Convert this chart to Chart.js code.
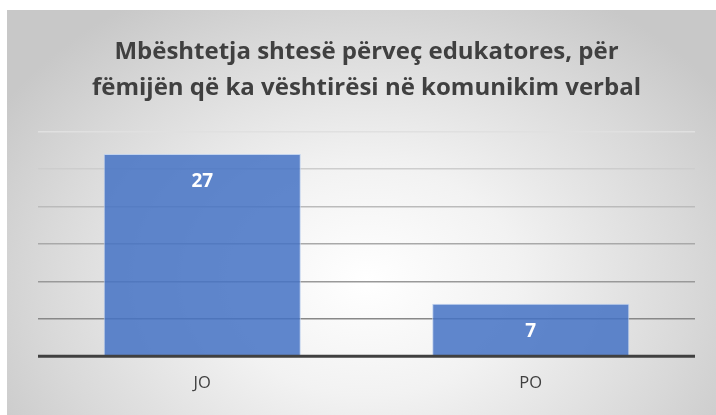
<!DOCTYPE html>
<html>
<head>
<meta charset="utf-8">
<script src="https://cdn.jsdelivr.net/npm/chart.js@4"></script>
<style>
  html, body { margin: 0; padding: 0; background: #ffffff; }
  #wrap {
    position: absolute; left: 7px; top: 10px; width: 709px; height: 405px;
    background: radial-gradient(ellipse 430px 330px at 360px 270px, #ffffff 0%, #f2f2f2 35%, #d9d9d9 75%, #c8c8c8 100%);
  }
</style>
</head>
<body>
<div id="wrap"><canvas id="c" width="709" height="405"></canvas></div>
<script>
const categories = ["JO", "PO"];
const values = [27, 7];
const titleLines = ["Mbështetja shtesë përveç edukatores, për", "fëmijën që ka vështirësi në komunikim verbal"];
const yMax = 30;
const yStep = 5;

const gridColors = { 30: "#e0e0e0", 25: "#cdcdcd", 20: "#bbbbbb", 15: "#a9a9a9", 10: "#999999", 5: "#888888", 0: "rgba(0,0,0,0)" };

const dataLabels = {
  id: "dataLabels",
  afterDatasetsDraw(chart) {
    const ctx = chart.ctx;
    const meta = chart.getDatasetMeta(0);
    ctx.save();
    ctx.fillStyle = "#ffffff";
    ctx.font = "bold 19px 'Open Sans', sans-serif";
    ctx.textAlign = "center";
    ctx.textBaseline = "middle";
    meta.data.forEach((bar, i) => {
      ctx.fillText(String(values[i]), bar.x, bar.y + 28);
    });
    ctx.restore();
  }
};

const axisLine = {
  id: "axisLine",
  afterDatasetsDraw(chart) {
    const ctx = chart.ctx;
    const y = chart.scales.y.getPixelForValue(0);
    ctx.save();
    ctx.strokeStyle = "#404040";
    ctx.lineWidth = 3;
    ctx.beginPath();
    ctx.moveTo(chart.chartArea.left, y);
    ctx.lineTo(chart.chartArea.right, y);
    ctx.stroke();
    ctx.restore();
  }
};

new Chart(document.getElementById("c"), {
  type: "bar",
  data: {
    labels: categories,
    datasets: [{
      data: values,
      backgroundColor: "rgba(68,114,196,0.85)",
      borderColor: "rgba(190,208,238,0.9)",
      borderWidth: 1,
      barPercentage: 0.6,
      categoryPercentage: 1.0
    }]
  },
  options: {
    responsive: false,
    animation: false,
    layout: { padding: { left: 31, right: 21, top: 0, bottom: 5 } },
    plugins: {
      legend: { display: false },
      tooltip: { enabled: false },
      title: {
        display: true,
        text: titleLines,
        color: "#404040",
        font: { family: "'Open Sans', sans-serif", size: 24, weight: "bold", lineHeight: 1.47 },
        padding: { top: 25, bottom: 26 }
      }
    },
    scales: {
      x: {
        grid: { display: false, drawTicks: false },
        border: { display: false },
        ticks: { color: "#404040", font: { family: "'Open Sans', sans-serif", size: 16.5 }, padding: 17 }
      },
      y: {
        min: 0, max: yMax,
        ticks: { display: false, stepSize: yStep },
        border: { display: false },
        grid: {
          drawTicks: false,
          lineWidth: 1.5,
          color: (c) => gridColors[c.tick ? c.tick.value : 0] || "#cccccc"
        }
      }
    }
  },
  plugins: [dataLabels, axisLine]
});
</script>
</body>
</html>
